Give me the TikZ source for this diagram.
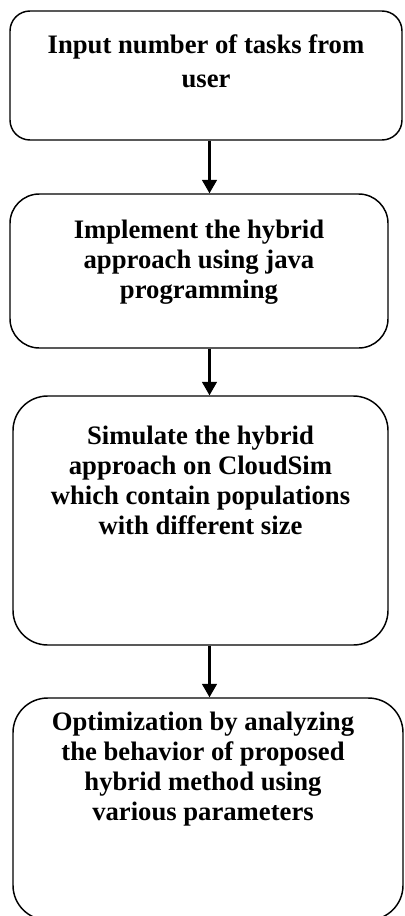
\documentclass[tikz,border=0pt]{standalone}
\usepackage{fontspec}
\setmainfont{Liberation Serif}
\usetikzlibrary{arrows.meta}
\tikzset{
  stepbox/.style={draw, rounded corners=#1, line width=1.1pt, inner sep=0pt},
  steptext/.style={align=center, inner sep=0pt, anchor=base,
    font=\bfseries\fontsize{20}{22.5}\selectfont},
  flow/.style={line width=1.6pt, -{Triangle[width=11pt,length=10pt]}}
}
\begin{document}
\begin{tikzpicture}[x=0.75pt,y=-0.75pt]
  \useasboundingbox (0,0) rectangle (404,916);
  \coordinate (ax) at (209.5,0);

  % boxes
  \node[stepbox=15pt, minimum width=294pt, minimum height=96.75pt] (b1) at (206,75.5) {};
  \node[stepbox=22pt, minimum width=283.5pt, minimum height=115.5pt] (b2) at (199,271) {};
  \node[stepbox=26pt, minimum width=281.25pt, minimum height=186.75pt] (b3) at (200.5,520.5) {};
  \node[stepbox=26pt, minimum width=292.5pt, minimum height=166.5pt] (b4) at (208,809) {};

  % texts (anchored at the last baseline)
  \node[steptext, font=\bfseries\fontsize{20}{26}\selectfont] (t1) at (206,88)
    {Input number of tasks from\\user};
  \node[steptext] (t2) at (199,298)
    {Implement the hybrid\\approach using java\\programming};
  \node[steptext] (t3) at (200.5,534)
    {Simulate the hybrid\\approach on CloudSim\\which contain populations\\with different size};
  \node[steptext] (t4) at (203,820)
    {Optimization by analyzing\\the behavior of proposed\\hybrid method using\\various parameters};

  \draw[flow] (b1.south -| ax) -- (b2.north -| ax);
  \draw[flow] (b2.south -| ax) -- (b3.north -| ax);
  \draw[flow] (b3.south -| ax) -- (b4.north -| ax);
\end{tikzpicture}
\end{document}
